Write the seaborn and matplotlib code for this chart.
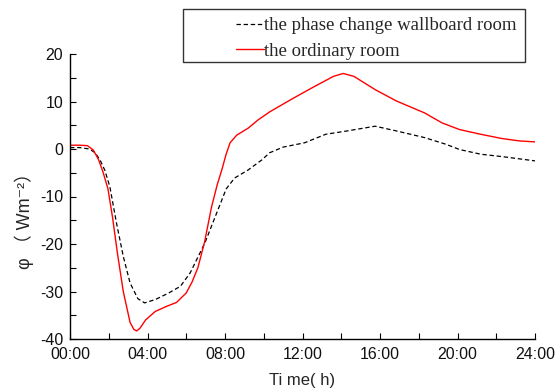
import matplotlib
matplotlib.use("Agg")
import matplotlib.pyplot as plt
import seaborn as sns
import pandas as pd
from matplotlib.patches import Rectangle
from matplotlib.ticker import MultipleLocator

# ---- data (hours, W/m2) ----
pcm_hours = [0, 0.5, 1.0, 1.3, 1.55, 1.8, 2.06, 2.4, 2.75, 3.1, 3.5, 3.85, 4.4, 5.1,
             5.7, 6.2, 6.96, 7.5, 7.84, 8.06, 8.5, 9.2, 9.9, 10.3, 11.0, 12.1, 13.2,
             14.3, 15.75, 16.85, 18.3, 19.4, 20.1, 21.2, 22.3, 24.0]
pcm_values = [0.3, 0.3, 0.0, -0.8, -2.3, -4.5, -8.0, -15.6, -22.6, -28.2, -31.5,
              -32.4, -31.7, -30.3, -28.9, -26.1, -19.8, -14.2, -10.7, -8.4, -6.1,
              -4.4, -2.3, -0.8, 0.4, 1.3, 3.1, 3.8, 4.8, 3.8, 2.4, 1.0, -0.1, -1.1,
              -1.6, -2.5]

ord_hours = [0, 0.5, 0.9, 1.2, 1.47, 1.7, 1.96, 2.2, 2.45, 2.75, 3.1, 3.3, 3.44,
             3.6, 3.9, 4.4, 5.0, 5.5, 6.0, 6.3, 6.6, 6.95, 7.3, 7.6, 7.85, 8.05,
             8.26, 8.6, 9.2, 9.7, 10.3, 11.4, 12.5, 13.6, 14.1, 14.65, 15.75, 16.85,
             18.3, 19.2, 20.1, 21.2, 22.3, 23.2, 24.0]
ord_values = [0.8, 0.8, 0.7, -0.2, -2.2, -4.8, -8.4, -14.5, -22.0, -30.0, -36.5,
              -38.0, -38.3, -37.8, -36.0, -34.2, -33.1, -32.3, -30.3, -28.0, -25.0,
              -19.5, -12.3, -7.5, -4.2, -1.2, 1.3, 2.9, 4.4, 6.1, 7.8, 10.4, 12.9,
              15.3, 15.9, 15.3, 12.5, 10.1, 7.6, 5.5, 4.1, 3.1, 2.2, 1.7, 1.5]

series_names = ["the phase change wallboard room", "the ordinary room"]
x_ticks = [0, 4, 8, 12, 16, 20, 24]
x_tick_labels = ["00:00", "04:00", "08:00", "12:00", "16:00", "20:00", "24:00"]
y_ticks = [-40, -30, -20, -10, 0, 10, 20]
y_tick_labels = ["-40", "-30", "-20", "-10", "0", "10", "20"]

df_pcm = pd.DataFrame({"hour": pcm_hours, "value": pcm_values})
df_ord = pd.DataFrame({"hour": ord_hours, "value": ord_values})

sns.set_style("ticks")
plt.rcParams["font.family"] = ["Liberation Sans", "Noto Sans CJK SC", "DejaVu Sans"]

fig = plt.figure(figsize=(5.55, 3.9), dpi=100)
ax = fig.add_axes([70 / 555, 1 - 339 / 390, 465 / 555, 285 / 390])

sns.lineplot(data=df_pcm, x="hour", y="value", ax=ax, color="black",
             linewidth=0.9, linestyle=(0, (3.5, 2.2)), label=series_names[0])
sns.lineplot(data=df_ord, x="hour", y="value", ax=ax, color="#ff0000",
             linewidth=1.0, label=series_names[1])

ax.set_xlim(0, 24)
ax.set_ylim(-40, 20)
ax.set_xticks(x_ticks)
ax.set_xticklabels(x_tick_labels)
ax.set_yticks(y_ticks)
ax.set_yticklabels(y_tick_labels)
ax.xaxis.set_minor_locator(MultipleLocator(2))
ax.yaxis.set_minor_locator(MultipleLocator(5))
ax.tick_params(which="both", direction="in", length=4, width=0.8, labelsize=11.5,
               color="black", labelcolor="#111111")
ax.tick_params(axis="x", pad=6)
ax.tick_params(axis="y", pad=5)
for s in ["top", "right"]:
    ax.spines[s].set_visible(False)
for s in ["left", "bottom"]:
    ax.spines[s].set_linewidth(1.0)
    ax.spines[s].set_color("black")

ax.set_xlabel("Ti me( h)", fontsize=12, labelpad=8)
ax.set_ylabel("φ （ Wm⁻²）", fontsize=13)
ax.yaxis.set_label_coords(-0.078, 0.43)

# legend
leg = ax.legend(loc="upper left", bbox_to_anchor=(236 / 555, 1 - 17 / 390),
                bbox_transform=fig.transFigure, frameon=False,
                prop={"family": "Liberation Serif", "size": 13.5},
                handlelength=1.5, handletextpad=0.0, labelspacing=0.45,
                borderpad=0.0, borderaxespad=0.0)
fig.patches.append(Rectangle((183 / 555, 1 - 62 / 390), 342 / 555, 53 / 390,
                             transform=fig.transFigure, fill=False,
                             edgecolor="#333333", linewidth=1.0))

fig.savefig("out.png", dpi=100)
